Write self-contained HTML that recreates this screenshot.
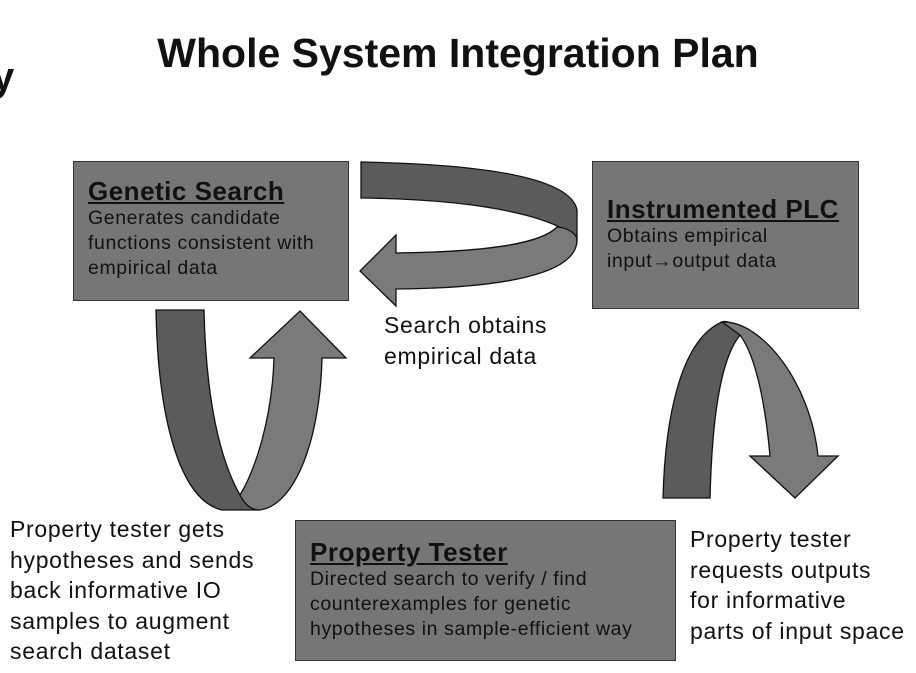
<!DOCTYPE html>
<html><head><meta charset="utf-8"><style>
body{margin:0;background:#fff;width:916px;height:673px;overflow:hidden;position:relative;font-family:"Liberation Sans",sans-serif}
.t{position:absolute;left:0;width:916px;top:30px;text-align:center;font-weight:bold;font-size:41px;color:#111}
.box{position:absolute;background:#767676;border:1.5px solid #333;box-sizing:border-box;color:#111;font-size:19.5px;letter-spacing:0.6px;line-height:25px;padding:14px 0 0 14px;white-space:nowrap}
.box b{display:block;font-size:26px;letter-spacing:0.5px;text-decoration:underline;line-height:30px}
.lab{position:absolute;font-size:23px;letter-spacing:0.7px;line-height:31px;color:#111;white-space:nowrap}
</style></head><body>
<div class="t">Whole System Integration Plan</div>
<div style="position:absolute;left:-8px;top:55px;font-weight:bold;font-size:40px;color:#111">y</div>
<svg width="916" height="673" style="position:absolute;left:0;top:0" stroke="#111" stroke-width="1.3">
<path fill="#5b5b5b" d="M361,162 C470,164 570,175 577,210 L577,240 C570,228 520,200 361,198 Z"/>
<path fill="#7a7a7a" d="M577,240 C577,275 500,288 396,289 L396,306 L360,271 L396,235 L396,253 C480,252 540,245 557,227 C570,228 577,235 577,240 Z"/>
<path fill="#5b5b5b" d="M156,310 L204,310 C206,400 220,460 240,495 C245,505 252,510 260,510 L222,510 C180,500 158,420 156,310 Z"/>
<path fill="#7a7a7a" d="M240,495 C255,470 272,420 274,358 L250,358 L300,311 L346,358 L322,358 C320,440 295,505 260,510 C252,510 245,505 240,495 Z"/>
<path fill="#5b5b5b" d="M663,498 L710,498 C712,420 720,360 740,335 C735,325 728,320 722,322 C680,340 665,420 663,498 Z"/>
<path fill="#7a7a7a" d="M722,322 C760,320 810,380 818,456 L838,456 L795,498 L750,456 L770,456 C765,400 755,355 740,335 Z"/>
</svg>
<div class="box" style="left:73px;top:161px;width:276px;height:140px"><b>Genetic Search</b>Generates candidate<br>functions consistent with<br>empirical data</div>
<div class="box" style="left:592px;top:161px;width:267px;height:148px;padding-top:32px"><b>Instrumented PLC</b>Obtains empirical<br>input→output data</div>
<div class="box" style="left:295px;top:520px;width:381px;height:141px;padding-top:16px"><b>Property Tester</b>Directed search to verify / find<br>counterexamples for genetic<br>hypotheses in sample-efficient way</div>
<div class="lab" style="left:384px;top:310px">Search obtains<br>empirical data</div>
<div class="lab" style="left:10px;top:514px;line-height:30.5px">Property tester gets<br>hypotheses and sends<br>back informative IO<br>samples to augment<br>search dataset</div>
<div class="lab" style="left:690px;top:524px;line-height:30.5px">Property tester<br>requests outputs<br>for informative<br>parts of input space</div>
</body></html>
